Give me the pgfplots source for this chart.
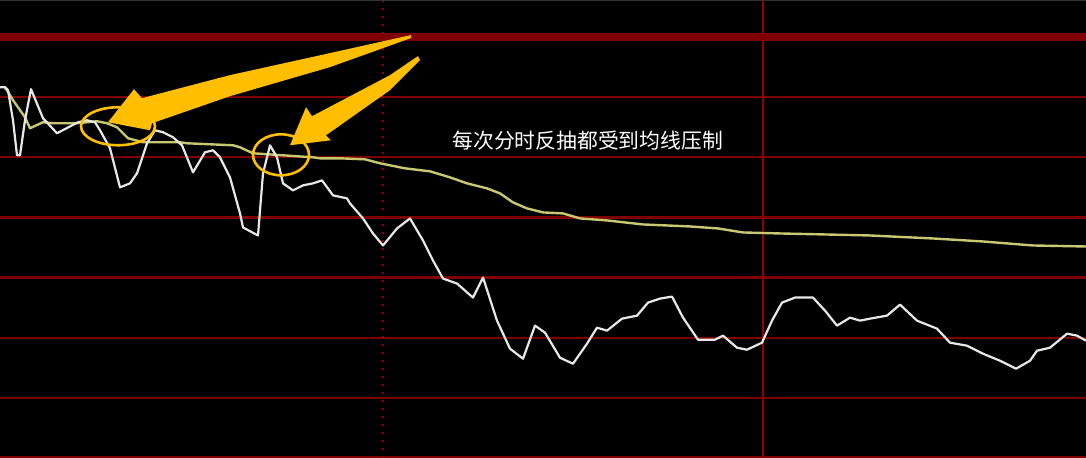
\documentclass[border=0pt]{standalone}
\usepackage{fontspec}
\usepackage{pgfplots}
\pgfplotsset{compat=1.18}
\newfontfamily\cjk{Noto Sans CJK SC}
\definecolor{gridred}{RGB}{128,0,0}
\definecolor{vred}{RGB}{150,0,0}
\definecolor{priceW}{RGB}{232,232,232}
\definecolor{avgY}{RGB}{200,200,112}
\definecolor{arrowO}{RGB}{255,190,0}
\begin{document}
\begin{tikzpicture}
\begin{axis}[
  width=543pt, height=228.5pt, scale only axis,
  xmin=0, xmax=1086, ymin=0, ymax=457, y dir=reverse,
  axis line style={draw=none},
  axis background/.style={fill=black},
  xtick={763}, ytick={97,157,217,277,337,397,456},
  xticklabels={}, yticklabels={},
  major tick length=0pt,
  xmajorgrids, ymajorgrids,
  x grid style={draw=vred, line width=1pt},
  y grid style={draw=gridred, line width=1.1pt},
  extra x ticks={383}, extra x tick labels={},
  extra x tick style={grid style={draw=gridred, line width=1pt, dash pattern=on 1pt off 3pt}},
  clip=true,
]
\draw[draw=black!80, line width=0.8pt] (axis cs:0,0.5) -- (axis cs:1086,0.5);
\draw[draw=gridred, line width=4pt] (axis cs:0,37) -- (axis cs:1086,37);
% average line
\addplot[avgY, line width=1.2pt, line join=round] coordinates {
(5,88) (7,90) (13,100) (25,117) (30,128) (43,122) (53,123) (77,123) (97,121) (107,123) (117,127) (128,138) (143,142) (180,142) (187,143) (233,145) (240,147) (253,153) (313,157) (320,158) (340,158) (365,159) (380,163) (405,168) (430,171) (450,177) (467,183) (487,188) (500,193) (513,202) (527,208) (543,212) (563,213) (580,218) (607,220) (643,224) (690,226) (718,228) (743,232) (780,233) (870,235) (933,238) (983,241) (1033,245) (1086,246)
};
% price line
\addplot[priceW, line width=1.1pt, line join=round] coordinates {
(0,87) (5,87) (8,90) (13,120) (17,155) (20,155) (25,120) (31,89) (43,118) (57,133) (78,122) (87,120) (95,122) (100,130) (110,148) (120,187) (130,183) (137,173) (147,143) (155,130) (163,132) (173,137) (182,145) (193,172) (205,152) (213,150) (220,157) (230,177) (240,213) (243,227) (258,235) (263,173) (270,145) (277,157) (283,183) (293,190) (303,185) (313,183) (322,180) (333,195) (347,198) (350,203) (363,218) (373,233) (383,245) (397,228) (410,218) (423,240) (433,260) (443,278) (457,283) (473,297) (483,277) (497,320) (510,348) (523,358) (535,325) (545,332) (560,357) (573,363) (587,343) (597,327) (607,330) (622,318) (637,315) (648,302) (660,298) (672,296) (683,317) (698,339) (715,339) (723,335) (737,347) (747,349) (762,342) (772,320) (782,302) (795,297) (813,297) (825,310) (837,325) (850,317) (860,320) (870,318) (887,315) (900,304) (917,320) (937,328) (950,342) (967,345) (983,353) (1000,360) (1016,368) (1030,360) (1037,350) (1050,347) (1067,333) (1077,335) (1086,340)
};
% annotations
\fill[arrowO] (axis cs:108,122) -- (axis cs:134,89) -- (axis cs:142,98) -- (axis cs:230,75) -- (axis cs:330,53) -- (axis cs:411,35) -- (axis cs:411,38) -- (axis cs:330,67) -- (axis cs:230,96) -- (axis cs:152,123) -- (axis cs:150,130) -- cycle;
\fill[arrowO] (axis cs:290,145) -- (axis cs:306,107) -- (axis cs:312,116) -- (axis cs:390,75) -- (axis cs:418,56) -- (axis cs:420,60) -- (axis cs:390,90) -- (axis cs:326,135) -- (axis cs:331,140) -- cycle;
\draw[arrowO, line width=1.3pt] (axis cs:118,126) ellipse [x radius=18.5pt, y radius=9.5pt];
\draw[arrowO, line width=1.3pt] (axis cs:281,154.5) ellipse [x radius=14pt, y radius=10.25pt];
\node[anchor=west, text=white, inner sep=0pt, font=\cjk\fontsize{10.4}{12}\selectfont] at (axis cs:452,140) {每次分时反抽都受到均线压制};
\end{axis}
\pgfresetboundingbox
\path[use as bounding box] (current axis.south west) rectangle (current axis.north east);
\end{tikzpicture}
\end{document}
